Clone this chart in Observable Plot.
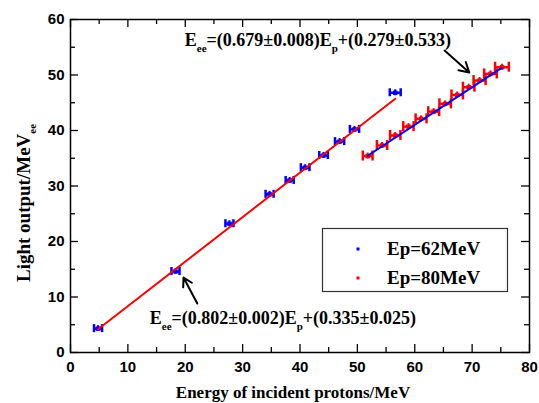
<!DOCTYPE html>
<html><head><meta charset="utf-8">
<script src="https://cdn.jsdelivr.net/npm/d3@7"></script>
<script src="https://cdn.jsdelivr.net/npm/@observablehq/plot@0.6"></script>
<style>body{margin:0;background:#fff} svg{display:block}</style>
</head><body><div id="chart"></div>
<script>
// Ep = 62 MeV series
const blueX    = [4.8, 18.3, 27.7, 34.7, 38.2, 40.9, 44.1, 46.9, 49.5, 56.6];
const blueY    = [4.3, 14.6, 23.2, 28.5, 31.0, 33.3, 35.5, 38.0, 40.2, 46.8];
const blueXErr = [0.7, 0.7, 0.7, 0.7, 0.7, 0.75, 0.75, 0.8, 0.8, 0.95];
// Ep = 80 MeV series
const redX    = [51.8, 54.3, 56.6, 58.9, 61.1, 63.3, 65.3, 67.4, 69.4, 71.3, 73.2, 75.2];
const redY    = [35.4, 37.3, 39.1, 40.7, 42.1, 43.4, 44.8, 46.4, 47.8, 49.0, 50.2, 51.4];
const redXErr = [0.85, 0.9, 0.9, 0.9, 0.95, 0.95, 1.0, 1.0, 1.0, 1.05, 1.1, 1.2];
// fitted lines (endpoints)
const fit62X = [4.8, 56.6];
const fit62Y = [4.18, 45.73];
const fit80X = [51.8, 75.2];
const fit80Y = [35.45, 51.34];
// ticks
const xTicks = [0, 10, 20, 30, 40, 50, 60, 70, 80];
const xMinor = [5, 15, 25, 35, 45, 55, 65, 75];
const yTicks = [0, 10, 20, 30, 40, 50, 60];
const yMinor = [5, 15, 25, 35, 45, 55];
// texts
const xTitle = "Energy of incident protons/MeV";
const yTitle = ["Light output/MeV", "ee"];
const legendLabels = ["Ep=62MeV", "Ep=80MeV"];
const eq80 = ["E", "ee", "=(0.679\u00b10.008)E", "p", "+(0.279\u00b10.533)"];
const eq62 = ["E", "ee", "=(0.802\u00b10.002)E", "p", "+(0.335\u00b10.025)"];
// annotation anchors (data coords)
const eq80Pos = [20.0, 55.1];
const eq62Pos = [13.9, 5.05];
const arrow80 = [65.2, 54.4, 69.5, 50.45];
const arrow62 = [22.1, 8.83, 19.7, 13.5];

const BLUE = "#0000ff", RED = "#ff0000";
const W = 539, H = 403, mL = 70, mR = 10, mT = 19, mB = 51;
const fw = W - mL - mR, fh = H - mT - mB;

const blue = blueX.map((x, i) => ({x, y: blueY[i], xe: blueXErr[i]}));
const red = redX.map((x, i) => ({x, y: redY[i], xe: redXErr[i]}));
const line62 = fit62X.map((x, i) => ({x, y: fit62Y[i]}));
const line80 = fit80X.map((x, i) => ({x, y: fit80Y[i]}));

function errMarks(data, color, cap) {
  return [
    Plot.ruleY(data, {y: "y", x1: d => d.x - d.xe, x2: d => d.x + d.xe, stroke: color, strokeWidth: 2.5}),
    Plot.ruleX(data, {x: d => d.x - d.xe, y1: "y", y2: "y", insetTop: -cap, insetBottom: -cap, stroke: color, strokeWidth: 2.5}),
    Plot.ruleX(data, {x: d => d.x + d.xe, y1: "y", y2: "y", insetTop: -cap, insetBottom: -cap, stroke: color, strokeWidth: 2.5}),
    Plot.ruleX(data, {x: "x", y1: "y", y2: "y", insetTop: -3, insetBottom: -3, stroke: color, strokeWidth: 2}),
    Plot.dot(data, {x: "x", y: "y", symbol: "square", r: 2.5, fill: color})
  ];
}

const tickFont = {fontSize: 15, fontWeight: "bold", fontFamily: "Liberation Sans, Arial, sans-serif", fill: "black"};

const plot = Plot.plot({
  width: W, height: H,
  marginLeft: mL, marginRight: mR, marginTop: mT, marginBottom: mB,
  x: {domain: [0, 80], label: null},
  y: {domain: [0, 60], label: null},
  style: {background: "white", overflow: "visible"},
  marks: [
    ...errMarks(blue, BLUE, 4),
    ...errMarks(red, RED, 5),
    Plot.line(line62, {x: "x", y: "y", stroke: RED, strokeWidth: 2}),
    Plot.line(line80, {x: "x", y: "y", stroke: BLUE, strokeWidth: 2}),
    Plot.tickX(xTicks, {x: d => d, insetTop: fh - 8, stroke: "black", strokeWidth: 1.3}),
    Plot.tickX(xMinor, {x: d => d, insetTop: fh - 5, stroke: "black", strokeWidth: 1.3}),
    Plot.tickX(xTicks, {x: d => d, insetBottom: fh - 8, stroke: "black", strokeWidth: 1.3}),
    Plot.tickX(xMinor, {x: d => d, insetBottom: fh - 5, stroke: "black", strokeWidth: 1.3}),
    Plot.tickY(yTicks, {y: d => d, insetRight: fw - 8, stroke: "black", strokeWidth: 1.3}),
    Plot.tickY(yMinor, {y: d => d, insetRight: fw - 5, stroke: "black", strokeWidth: 1.3}),
    Plot.tickY(yTicks, {y: d => d, insetLeft: fw - 8, stroke: "black", strokeWidth: 1.3}),
    Plot.tickY(yMinor, {y: d => d, insetLeft: fw - 5, stroke: "black", strokeWidth: 1.3}),
    Plot.frame({stroke: "black", strokeWidth: 1.5}),
    Plot.axisX(xTicks, {tickSize: 0, tickPadding: 9, label: null, ...tickFont}),
    Plot.axisY(yTicks, {tickSize: 0, tickPadding: 6, label: null, ...tickFont}),
    Plot.arrow([arrow80, arrow62], {x1: d => d[0], y1: d => d[1], x2: d => d[2], y2: d => d[3], stroke: "black", strokeWidth: 2, headLength: 9})
  ]
});

const svg = d3.select(plot);
const sx = plot.scale("x"), sy = plot.scale("y");
const serif = "Liberation Serif, Times New Roman, serif";

function eqText(parts, x, y, size, subSize, shift) {
  const t = svg.append("text").attr("x", x).attr("y", y).attr("text-anchor", "start")
    .attr("font-family", serif).attr("font-weight", "bold").attr("font-size", size).attr("fill", "black");
  let down = false;
  parts.forEach((p, i) => {
    const isSub = i % 2 === 1;
    const ts = t.append("tspan").text(p);
    if (isSub) { ts.attr("font-size", subSize).attr("dy", shift); down = true; }
    else if (down) { ts.attr("dy", -shift); down = false; }
  });
  return t;
}
eqText(eq80, sx.apply(eq80Pos[0]), sy.apply(eq80Pos[1]), 18, 11, 6);
eqText(eq62, sx.apply(eq62Pos[0]), sy.apply(eq62Pos[1]), 18, 11, 6);

// x title
svg.append("text").attr("x", 293).attr("y", 398).attr("text-anchor", "middle")
  .attr("font-family", serif).attr("font-weight", "bold").attr("font-size", 17).text(xTitle);
// y title
const yt = svg.append("text").attr("transform", "translate(30,282) rotate(-90)").attr("text-anchor", "start")
  .attr("font-family", serif).attr("font-weight", "bold").attr("font-size", 19);
yt.append("tspan").text(yTitle[0]);
yt.append("tspan").text(yTitle[1]).attr("font-size", 11).attr("dy", 6);

// legend
const lg = svg.append("g");
lg.append("rect").attr("x", 322.5).attr("y", 228.5).attr("width", 185).attr("height", 63)
  .attr("fill", "white").attr("stroke", "#333").attr("stroke-width", 1.2);
[BLUE, RED].forEach((c, i) => {
  const cy = [249, 278][i];
  lg.append("rect").attr("x", 356.5).attr("y", cy - 1.5).attr("width", 3).attr("height", 3).attr("fill", c);
  lg.append("text").attr("x", 387).attr("y", [255, 284][i]).attr("text-anchor", "start")
    .attr("font-family", serif).attr("font-weight", "bold").attr("font-size", 19).text(legendLabels[i]);
});

document.getElementById("chart").appendChild(plot);
</script>
</body></html>
